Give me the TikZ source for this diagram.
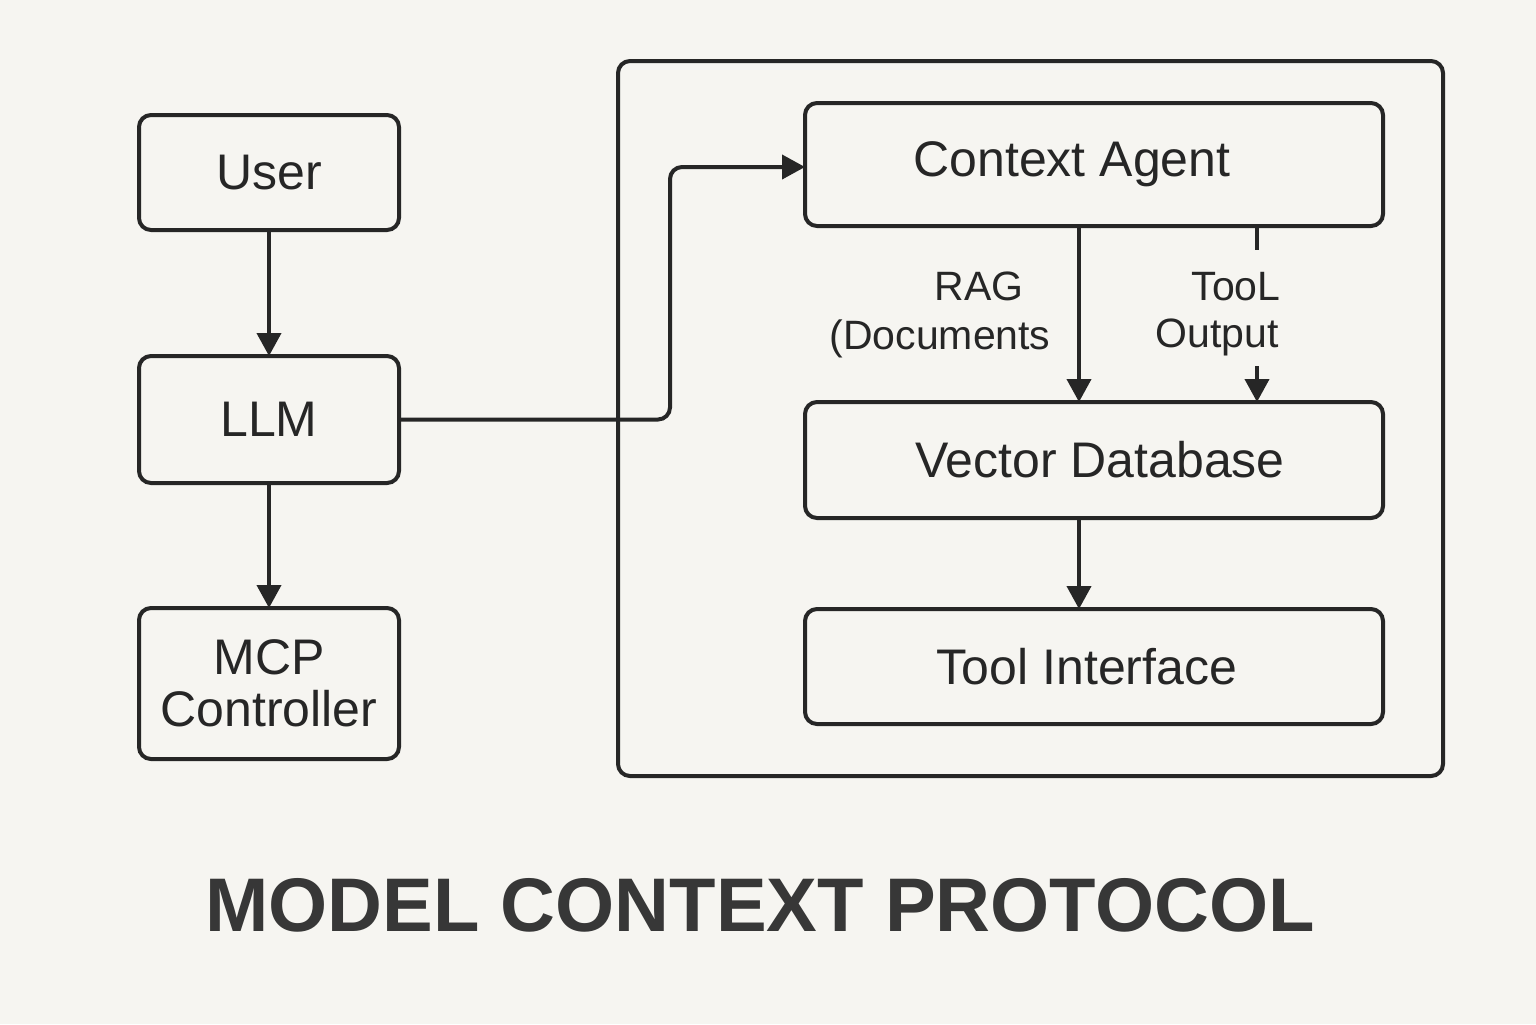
\documentclass[tikz,border=0pt]{standalone}
\usepackage{fontspec}
\setmainfont{Liberation Sans}
\usetikzlibrary{arrows.meta}
\definecolor{bg}{HTML}{F6F5F1}
\definecolor{ink}{HTML}{262626}
\tikzset{
  box/.style={draw=ink, line width=2pt, rounded corners=6pt, inner sep=0pt, outer sep=0pt, text=ink,
    font=\fontsize{25}{26}\selectfont, align=center},
  arr/.style={draw=ink, line width=2pt, -{Triangle[length=11.5pt,width=12pt]}},
  ln/.style={draw=ink, line width=2pt},
  lbl/.style={text=ink, font=\fontsize{20.5}{22}\selectfont, inner sep=0pt, anchor=base},
}
\begin{document}
\begin{tikzpicture}[x=0.5pt,y=-0.5pt]
\useasboundingbox[fill=bg] (0,0) rectangle (1536,1024);
% left column
\node[box, minimum width=130pt, minimum height=57.5pt] (user) at (269,172.5) {User};
\node[box, minimum width=130pt, minimum height=63.5pt] (llm) at (269,419.5) {LLM};
\node[box, minimum width=130pt, minimum height=75.5pt] (mcp) at (269,683.5) {MCP\\Controller};
% container
\node[box, minimum width=412.5pt, minimum height=357.5pt] (cont) at (1030.5,418.5) {};
% right column
\node[box, minimum width=289pt, minimum height=61.5pt,
  label={[text=ink, font=\fontsize{25}{26}\selectfont, xshift=-11pt]center:Context Agent}] (ca) at (1094,164.5) {};
\node[box, minimum width=289pt, minimum height=58pt,
  label={[text=ink, font=\fontsize{25}{26}\selectfont, xshift=3pt]center:Vector Database}] (vdb) at (1094,460) {};
\node[box, minimum width=289pt, minimum height=57.5pt,
  label={[text=ink, font=\fontsize{25}{26}\selectfont, xshift=-3.5pt]center:Tool Interface}] (ti) at (1094,666.5) {};
% arrows left
\draw[arr] (user) -- (llm);
\draw[arr] (llm) -- (mcp);
\coordinate (bend) at (670,419.5);
\coordinate (cain) at (805,167);
\draw[arr, rounded corners=6pt] (llm.east) -- (bend) |- (cain);
% right arrows
\coordinate (rx) at (1079,0);
\coordinate (tx) at (1257,0);
\coordinate (tstub) at (1257,250);
\coordinate (tstart) at (1257,366);
\draw[arr] (ca.south -| rx) -- (vdb.north -| rx);
\draw[ln] (ca.south -| tx) -- (tstub);
\draw[arr] (tstart) -- (vdb.north -| tx);
\draw[arr] (vdb.south -| rx) -- (ti.north -| rx);
% labels
\node[lbl] (rag) at (979,300) {RAG};
\node[lbl] (docs) at (940,349) {(Documents};
\node[lbl] (tool) at (1236,300) {TooL};
\node[lbl] (out) at (1217,347) {Output};
% title
\node[text=ink!92, font=\fontsize{38}{40}\selectfont\bfseries, inner sep=0pt, anchor=base] (title) at (760,931) {MODEL CONTEXT PROTOCOL};
\end{tikzpicture}
\end{document}
